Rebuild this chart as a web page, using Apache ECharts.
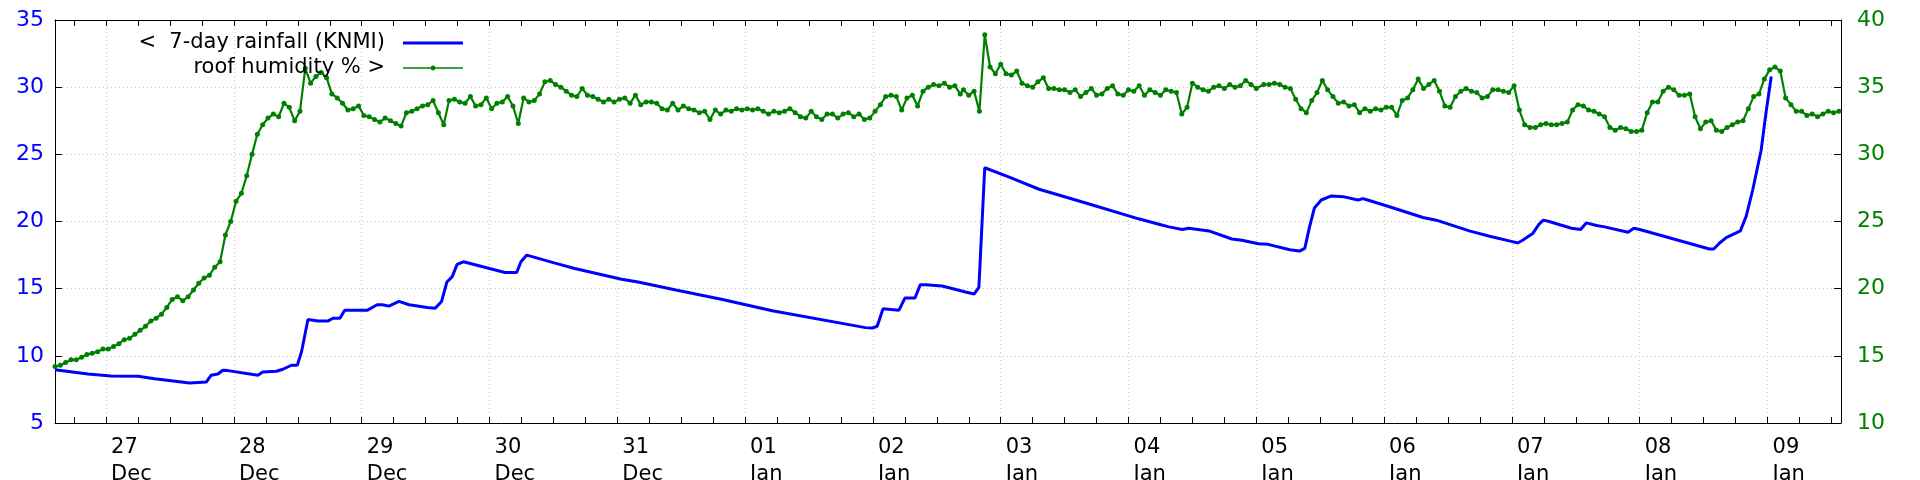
<!DOCTYPE html>
<html>
<head>
<meta charset="utf-8">
<script src="https://cdn.jsdelivr.net/npm/echarts@6/dist/echarts.min.js"></script>
<style>
html,body{margin:0;padding:0;background:#ffffff;}
#chart{width:1920px;height:480px;}
</style>
</head>
<body>
<div id="chart"></div>
<script>
// X values are hours since 26 Dec 00:00
const xMin = 14.4;
const xMax = 349.8;

// x-axis tick labels (one per midnight, from 27 Dec = hour 24)
const dayLabels = ['27','28','29','30','31','01','02','03','04','05','06','07','08','09'];
const monthLabels = ['Dec','Dec','Dec','Dec','Dec','Jan','Jan','Jan','Jan','Jan','Jan','Jan','Jan','Jan'];

// 7-day rainfall (KNMI), left axis
const rainHours = [14.4,20.6,24.9,30.0,33.1,39.7,42.8,43.7,45.0,45.9,46.9,52.5,53.4,56.0,57.2,58.8,59.9,60.7,61.9,63.8,
  65.7,66.6,67.9,68.8,71.9,73.1,74.9,75.9,77.1,79.0,80.9,84.3,85.8,87.0,88.0,89.0,89.9,91.1,98.9,101.1,
  101.9,103.0,108.3,112.0,120.8,123.9,131.0,139.75,149.1,166.6,167.9,168.8,169.9,172.9,174.0,175.9,176.9,177.9,181.0,185.4,
  187.0,187.9,189.0,193.6,199.2,204.8,208.6,217.9,221.7,223.6,226.1,227.3,231.1,235.4,237.3,240.4,242.2,246.3,248.1,249.1,
  250.0,250.9,252.2,254.1,256.3,259.1,260.0,260.9,265.0,271.3,273.8,280.0,283.8,288.1,289.1,290.0,291.9,293.1,293.9,295.0,
  297.0,299.2,300.9,302.0,303.9,305.4,309.8,310.9,312.0,325.1,325.9,327.0,328.25,330.9,332.0,333.25,334.8,335.75,336.7];
const rainValues = [8.97,8.65,8.5,8.48,8.3,7.98,8.05,8.55,8.65,8.93,8.9,8.55,8.8,8.85,9.0,9.3,9.3,10.3,12.7,12.6,
  12.6,12.8,12.8,13.4,13.4,13.4,13.8,13.8,13.7,14.05,13.8,13.6,13.55,14.05,15.5,15.9,16.8,17.0,16.2,16.2,
  17.0,17.5,16.9,16.5,15.7,15.5,14.9,14.2,13.36,12.1,12.07,12.2,13.5,13.4,14.3,14.3,15.3,15.3,15.2,14.75,
  14.6,15.1,24.0,23.3,22.4,21.75,21.3,20.2,19.8,19.6,19.4,19.5,19.3,18.7,18.6,18.35,18.3,17.9,17.8,18.0,
  19.6,21.0,21.6,21.9,21.85,21.6,21.7,21.6,21.1,20.3,20.1,19.3,18.9,18.5,18.4,18.6,19.1,19.8,20.1,20.0,
  19.76,19.5,19.4,19.9,19.7,19.6,19.2,19.5,19.4,17.95,17.95,18.4,18.8,19.3,20.4,22.4,25.3,28.2,30.8];

// roof humidity %, right axis: hourly readings in segments (start hour of each segment)
const humStarts = [14.4, 73.4, 129.4, 185.0, 241.4, 297.4];
const humSeg1 = [14.2,14.3,14.5,14.7,14.7,14.9,15.1,15.2,15.3,15.5,
  15.5,15.7,15.9,16.2,16.3,16.6,16.9,17.2,17.6,17.8,
  18.1,18.6,19.2,19.4,19.1,19.4,19.9,20.4,20.8,21.0,
  21.6,22.0,24.0,25.0,26.5,27.1,28.4,30.0,31.5,32.2,
  32.7,33.0,32.8,33.8,33.5,32.5,33.2,36.4,35.3,35.8,
  36.1,35.7,34.5,34.2,33.8,33.3,33.4,33.6,32.9];
const humSeg2 = [32.8,32.6,32.4,32.7,32.5,32.3,32.1,33.1,33.2,33.4,
  33.6,33.7,34.0,33.1,32.2,34.0,34.1,33.9,33.8,34.3,
  33.6,33.7,34.2,33.4,33.8,33.9,34.3,33.6,32.3,34.2,
  33.9,34.0,34.5,35.4,35.5,35.2,35.0,34.7,34.4,34.3,
  34.9,34.4,34.3,34.1,33.9,34.1,33.9,34.1,34.2,33.8,
  34.4,33.7,33.9,33.9,33.8,33.4];
const humSeg3 = [33.3,33.8,33.3,33.6,33.4,33.3,33.1,33.2,32.6,33.3,
  33.0,33.3,33.2,33.4,33.3,33.4,33.3,33.4,33.2,33.0,
  33.2,33.1,33.2,33.4,33.1,32.8,32.7,33.2,32.8,32.6,
  33.0,33.0,32.7,33.0,33.1,32.8,33.0,32.6,32.7,33.2,
  33.7,34.3,34.4,34.3,33.3,34.2,34.4,33.6,34.7,35.0,
  35.2,35.1,35.3,35.0,35.1,34.5];
const humSeg4 = [34.8,34.4,34.7,33.2,38.9,36.5,36.0,36.7,36.0,35.9,
  36.2,35.3,35.1,35.0,35.4,35.7,34.9,34.9,34.8,34.8,
  34.6,34.8,34.3,34.6,34.9,34.4,34.5,34.9,35.1,34.5,
  34.4,34.8,34.7,35.1,34.4,34.8,34.6,34.4,34.8,34.7,
  34.6,33.0,33.5,35.3,35.0,34.8,34.7,35.0,35.1,34.9,
  35.2,35.0,35.1,35.5,35.2,34.9];
const humSeg5 = [35.2,35.2,35.3,35.2,35.0,34.9,34.1,33.4,33.1,34.0,
  34.6,35.5,34.8,34.3,33.8,33.9,33.6,33.7,33.1,33.4,
  33.2,33.4,33.3,33.5,33.5,32.9,34.0,34.2,34.8,35.6,
  34.9,35.2,35.5,34.7,33.6,33.5,34.3,34.7,34.9,34.7,
  34.6,34.2,34.3,34.8,34.8,34.7,34.6,35.1,33.3,32.2,
  32.0,32.0,32.2,32.3,32.2,32.2];
const humSeg6 = [32.3,32.4,33.3,33.7,33.6,33.3,33.2,33.0,32.8,32.0,
  31.8,32.0,31.9,31.7,31.7,31.8,33.1,33.9,33.9,34.7,
  35.0,34.8,34.4,34.4,34.5,32.8,31.9,32.4,32.5,31.8,
  31.7,32.0,32.2,32.4,32.5,33.4,34.3,34.5,35.6,36.3,
  36.5,36.2,34.2,33.7,33.2,33.2,32.9,33.0,32.8,33.0,
  33.2,33.1,33.2];
const humStepHours = 1;

const rainName = '<  7-day rainfall (KNMI)';
const humName = 'roof humidity % >';

const FONT = 'DejaVu Sans';
const rainData = rainHours.map((h, i) => [h, rainValues[i]]);
const humData = [];
[humSeg1, humSeg2, humSeg3, humSeg4, humSeg5, humSeg6].forEach((seg, s) => {
  seg.forEach((v, i) => humData.push([humStarts[s] + i * humStepHours, v]));
});

function xLabel(v) {
  const k = Math.round(v / 24) - 1;
  if (Math.abs(v - (k + 1) * 24) > 0.01 || k < 0 || k >= dayLabels.length) return '';
  return dayLabels[k] + '\n' + monthLabels[k];
}

const gridLine = { show: true, lineStyle: { color: '#c8c8c8', width: 1, type: [1, 3] } };

const chart = echarts.init(document.getElementById('chart'), null, { renderer: 'canvas' });
chart.setOption({
  animation: false,
  backgroundColor: '#ffffff',
  grid: { left: 55, right: 79, top: 20, bottom: 57, containLabel: false, outerBoundsMode: 'none' },
  legend: {
    orient: 'vertical', left: 95, top: 32, align: 'right', padding: 0,
    itemGap: 3, itemWidth: 60, itemHeight: 6,
    formatter: function (name) { return '{t|' + name + '}'; },
    textStyle: {
      fontFamily: FONT, fontSize: 21, color: '#000', lineHeight: 22,
      rich: { t: { fontFamily: FONT, fontSize: 21, color: '#000', lineHeight: 22, width: 290, align: 'right', padding: [0, 13, 0, 0] } }
    },
    data: [
      { name: rainName, itemStyle: { opacity: 0 }, lineStyle: { width: 3, color: '#0000ff' } },
      { name: humName, lineStyle: { width: 1.5, color: '#008000' } }
    ]
  },
  xAxis: [
    {
      type: 'value', position: 'bottom', min: xMin, max: xMax, minInterval: 24, maxInterval: 24, splitNumber: 14,
      axisLine: { show: true, onZero: false, lineStyle: { color: '#000', width: 1 } },
      axisTick: { show: true, inside: true, length: 6, lineStyle: { color: '#000', width: 1 } },
      minorTick: { show: true, splitNumber: 4, length: 6, lineStyle: { color: '#000', width: 1 } },
      splitLine: gridLine,
      axisLabel: { formatter: xLabel, align: 'left', padding: [0, 0, 0, 5], margin: 11, fontFamily: FONT, fontSize: 21, lineHeight: 27, color: '#000' }
    },
    {
      type: 'value', position: 'top', min: xMin, max: xMax, minInterval: 24, maxInterval: 24, splitNumber: 14,
      axisLine: { show: true, onZero: false, lineStyle: { color: '#000', width: 1 } },
      axisTick: { show: true, inside: true, length: 6, lineStyle: { color: '#000', width: 1 } },
      minorTick: { show: true, splitNumber: 4, length: 6, lineStyle: { color: '#000', width: 1 } },
      splitLine: { show: false },
      axisLabel: { show: false }
    }
  ],
  yAxis: [
    {
      type: 'value', position: 'left', min: 5, max: 35, interval: 5,
      axisLine: { show: true, onZero: false, lineStyle: { color: '#000', width: 1 } },
      axisTick: { show: true, inside: true, length: 7, lineStyle: { color: '#000' } },
      splitLine: gridLine,
      axisLabel: { color: '#0000ff', fontFamily: FONT, fontSize: 22, margin: 11 }
    },
    {
      type: 'value', position: 'right', min: 10, max: 40, interval: 5,
      axisLine: { show: true, onZero: false, lineStyle: { color: '#000', width: 1 } },
      axisTick: { show: true, inside: true, length: 7, lineStyle: { color: '#000' } },
      splitLine: { show: false },
      axisLabel: { color: '#008000', fontFamily: FONT, fontSize: 22, margin: 16 }
    }
  ],
  series: [
    {
      name: rainName, type: 'line', xAxisIndex: 0, yAxisIndex: 0, data: rainData,
      symbol: 'none', smooth: false,
      lineStyle: { color: '#0000ff', width: 3 }, itemStyle: { color: '#0000ff' }, z: 3
    },
    {
      name: humName, type: 'line', xAxisIndex: 0, yAxisIndex: 1, data: humData,
      symbol: 'circle', symbolSize: 5, showSymbol: true, showAllSymbol: true,
      lineStyle: { color: '#008000', width: 2.2 }, itemStyle: { color: '#008000' }, z: 2
    }
  ]
});
</script>
</body>
</html>
